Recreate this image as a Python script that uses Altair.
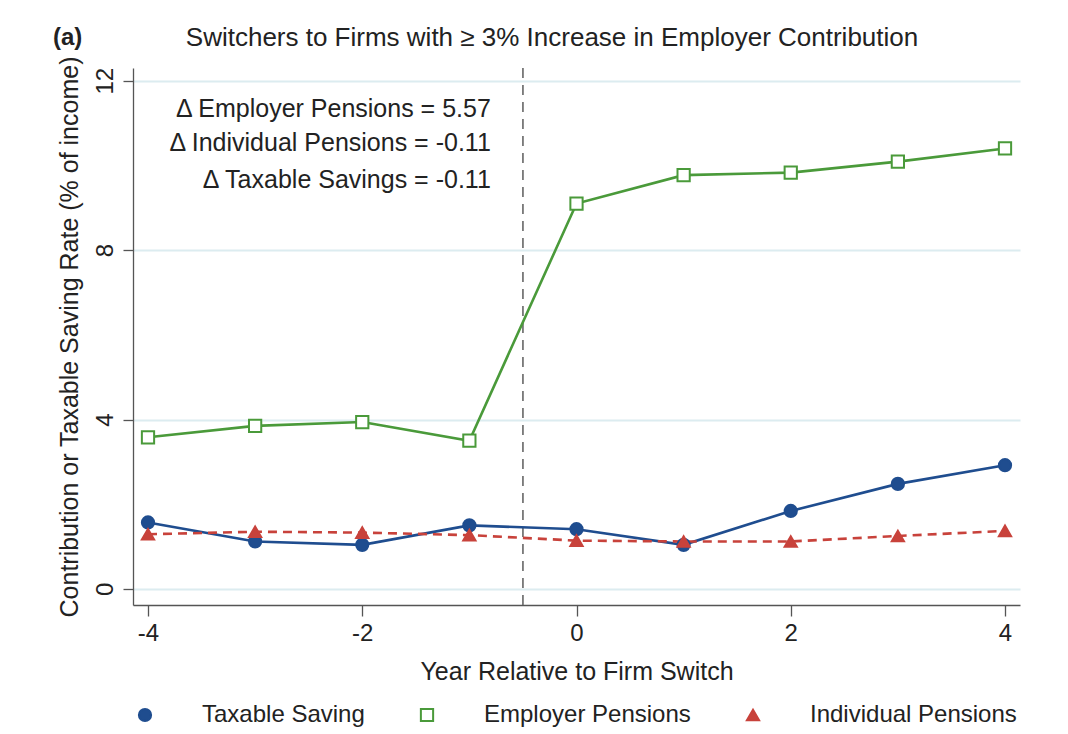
import altair as alt
import pandas as pd

years = [-4, -3, -2, -1, 0, 1, 2, 3, 4]
taxable_saving = [1.57, 1.12, 1.04, 1.50, 1.41, 1.04, 1.84, 2.48, 2.92]
employer_pensions = [3.58, 3.85, 3.94, 3.50, 9.10, 9.77, 9.83, 10.09, 10.40]
individual_pensions = [1.29, 1.35, 1.33, 1.27, 1.14, 1.12, 1.12, 1.25, 1.37]
series_names = ["Taxable Saving", "Employer Pensions", "Individual Pensions"]
series_colors = ["#1f4d8f", "#4a9a3a", "#c8423b"]
series_fills = ["#1f4d8f", "#ffffff", "#c8423b"]
series_shapes = ["circle", "square", "triangle-up"]

annot_lines = ["Δ Employer Pensions = 5.57", "Δ Individual Pensions = -0.11", "Δ Taxable Savings = -0.11"]
annot_y = [11.34, 10.52, 9.65]
annot_x = [-0.8, -0.8, -0.8]
switch_x = [-0.5]
title_text = "Switchers to Firms with ≥ 3% Increase in Employer Contribution"

rows = []
for name, vals in zip(series_names, [taxable_saving, employer_pensions, individual_pensions]):
    for yr, v in zip(years, vals):
        rows.append({"year": yr, "value": v, "series": name})
df = pd.DataFrame(rows)
ann = pd.DataFrame({"text": annot_lines, "x": annot_x, "y": annot_y})
vline = pd.DataFrame({"x": switch_x})
one = pd.DataFrame({"k": [0]})

FONT = "Liberation Sans"
TXT = "#222222"
xscale = alt.Scale(domain=[-4.14, 4.14], nice=False, zero=False)
yscale = alt.Scale(domain=[-0.38, 12.3], nice=False, zero=False)

legend = alt.Legend(orient="none", legendX=0, legendY=635, direction="horizontal",
                    title=None, labelFont=FONT, labelFontSize=24, labelColor=TXT,
                    labelLimit=0, symbolSize=150, symbolStrokeWidth=2,
                    columnPadding=50, labelOffset=45)

color = alt.Color("series:N", sort=series_names,
                  scale=alt.Scale(domain=series_names, range=series_colors), legend=legend)

xenc = alt.X("year:Q", scale=xscale, title="Year Relative to Firm Switch",
             axis=alt.Axis(values=[-4, -2, 0, 2, 4], grid=False, tickSize=11,
                           labelPadding=5, titlePadding=14,
                           labelExpr="toString(datum.value)"))
yenc = alt.Y("value:Q", scale=yscale, title="Contribution or Taxable Saving Rate (% of income)",
             axis=alt.Axis(values=[0, 4, 8, 12], grid=True, gridColor="#dcecf0", gridWidth=2,
                           tickSize=10, labelAngle=270, labelAlign="center", labelBaseline="bottom",
                           labelPadding=6, titlePadding=11))

base = alt.Chart(df)
solid_lines = base.transform_filter(
    alt.datum.series != series_names[2]
).mark_line(strokeWidth=2.6).encode(x=xenc, y=yenc, color=color)

dashed_lines = base.transform_filter(
    alt.datum.series == series_names[2]
).mark_line(strokeWidth=2.6, strokeDash=[9, 6]).encode(x="year:Q", y="value:Q", color=color)

points = base.mark_point(filled=False, strokeWidth=2, opacity=1).encode(
    x="year:Q", y="value:Q",
    color=color,
    fill=alt.Fill("series:N", sort=series_names,
                  scale=alt.Scale(domain=series_names, range=series_fills), legend=legend),
    shape=alt.Shape("series:N", sort=series_names,
                    scale=alt.Scale(domain=series_names, range=series_shapes), legend=legend),
    size=alt.value(150),
)

rule = alt.Chart(vline).mark_rule(color="#666666", strokeDash=[10, 7], strokeWidth=1.6).encode(
    x="x:Q"
)

texts = alt.Chart(ann).mark_text(align="right", baseline="middle", fontSize=25, font=FONT,
                                 color=TXT).encode(
    x="x:Q", y="y:Q", text="text:N"
)

panel = alt.Chart(one).mark_text(align="left", baseline="middle", fontSize=24, font=FONT,
                                 fontWeight="bold", color=TXT).encode(
    x=alt.value(-80), y=alt.value(-30), text=alt.value("(a)")
)

title = alt.Chart(one).mark_text(align="center", baseline="middle", fontSize=26, font=FONT,
                                 color=TXT).encode(
    x=alt.value(419), y=alt.value(-30), text=alt.value(title_text)
)

chart = alt.layer(rule, solid_lines, dashed_lines, points, texts, panel, title).properties(
    width=887, height=537,
    autosize=alt.AutoSizeParams(type="none"),
    padding={"left": 133, "top": 68, "right": 48, "bottom": 129},
).configure_view(stroke=None).configure_axis(
    labelFont=FONT, titleFont=FONT, labelFontSize=24, titleFontSize=25,
    labelColor=TXT, titleColor=TXT, titleFontWeight="normal",
    domainColor="#555555", tickColor="#555555", domainWidth=1.3, tickWidth=1.3,
)

chart.save("out.html", embed_options={"renderer": "svg", "actions": False})
